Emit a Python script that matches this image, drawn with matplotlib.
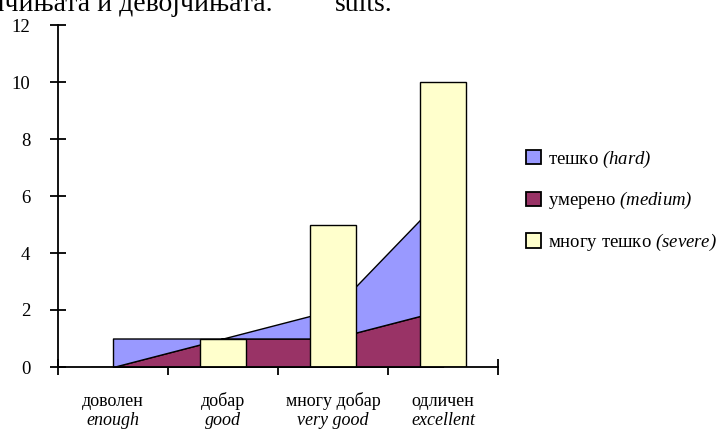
import numpy as np
import matplotlib.pyplot as plt
import matplotlib.transforms as mtransforms
from matplotlib.patches import Patch

plt.rcParams['font.family'] = ['Liberation Serif', 'DejaVu Serif']
plt.rcParams['mathtext.fontset'] = 'custom'
plt.rcParams['mathtext.it'] = 'Liberation Serif:italic'
plt.rcParams['mathtext.rm'] = 'Liberation Serif:italic'

# податоци
kategorii = ['доволен', 'добар', 'многу добар', 'одличен']
kategorii_en = ['enough', 'good', 'very good', 'excellent']
teshko = [1, 0, 1, 4]        # hard
umereno = [0, 1, 1, 2]       # medium
mnogu_teshko = [0, 1, 5, 10]  # severe
y_ticks = [0, 2, 4, 6, 8, 10, 12]

boi = {'hard': '#9999FF', 'medium': '#993366', 'severe': '#FFFFCC'}

fig = plt.figure(figsize=(7.2, 4.3), dpi=100)
ax = fig.add_axes([58/720, 63/430, 440/720, 342/430])

x = np.arange(len(kategorii)) + 0.5
ax.stackplot(x, umereno, teshko, colors=[boi['medium'], boi['hard']],
             edgecolor='black', linewidth=1.0, zorder=2)
ax.bar(x, mnogu_teshko, width=0.41, color=boi['severe'],
       edgecolor='black', linewidth=1.0, zorder=3)

ax.set_xlim(0, 4)
ax.set_ylim(0, 12)
for s in ['top', 'right']:
    ax.spines[s].set_visible(False)
for s in ['left', 'bottom']:
    ax.spines[s].set_linewidth(1.3)
    ax.spines[s].set_zorder(5)

ax.set_yticks(y_ticks)
ax.tick_params(axis='y', direction='inout', length=12, width=1.3, labelsize=13.5, pad=14)
ax.set_xticks(range(5))
ax.set_xticklabels([])
ax.tick_params(axis='x', which='major', direction='inout', length=12, width=1.3)

# имиња на категориите (два реда)
tr = mtransforms.blended_transform_factory(ax.transData, fig.transFigure)
for xi, k, e in zip(x, kategorii, kategorii_en):
    ax.text(xi, 1 - 406/430, k, transform=tr, ha='center', va='baseline', fontsize=13)
    ax.text(xi, 1 - 425/430, e, transform=tr, ha='center', va='baseline', fontsize=13,
            fontstyle='italic')

# легенда
rachki = [Patch(facecolor=boi['hard'], edgecolor='black', label=r'тешко $\mathit{(hard)}$'),
          Patch(facecolor=boi['medium'], edgecolor='black', label=r'умерено $\mathit{(medium)}$'),
          Patch(facecolor=boi['severe'], edgecolor='black', label=r'многу тешко $\mathit{(severe)}$')]
leg = fig.legend(handles=rachki, loc='upper left', bbox_to_anchor=(518/720, 1 - 141/430),
                 frameon=False, fontsize=13.5, handlelength=0.8, handleheight=0.8,
                 handletextpad=0.4, labelspacing=1.1, borderaxespad=0)
for h in leg.legend_handles:
    h.set_linewidth(1.3)

# пресечен текст од документот
fig.text(273/720, 1 - 11/430, 'момчињата и девојчињата.', fontsize=20, va='baseline', ha='right')
fig.text(335/720, 1 - 11/430, 'sults.', fontsize=20, va='baseline')

fig.savefig('out.png', dpi=100)
